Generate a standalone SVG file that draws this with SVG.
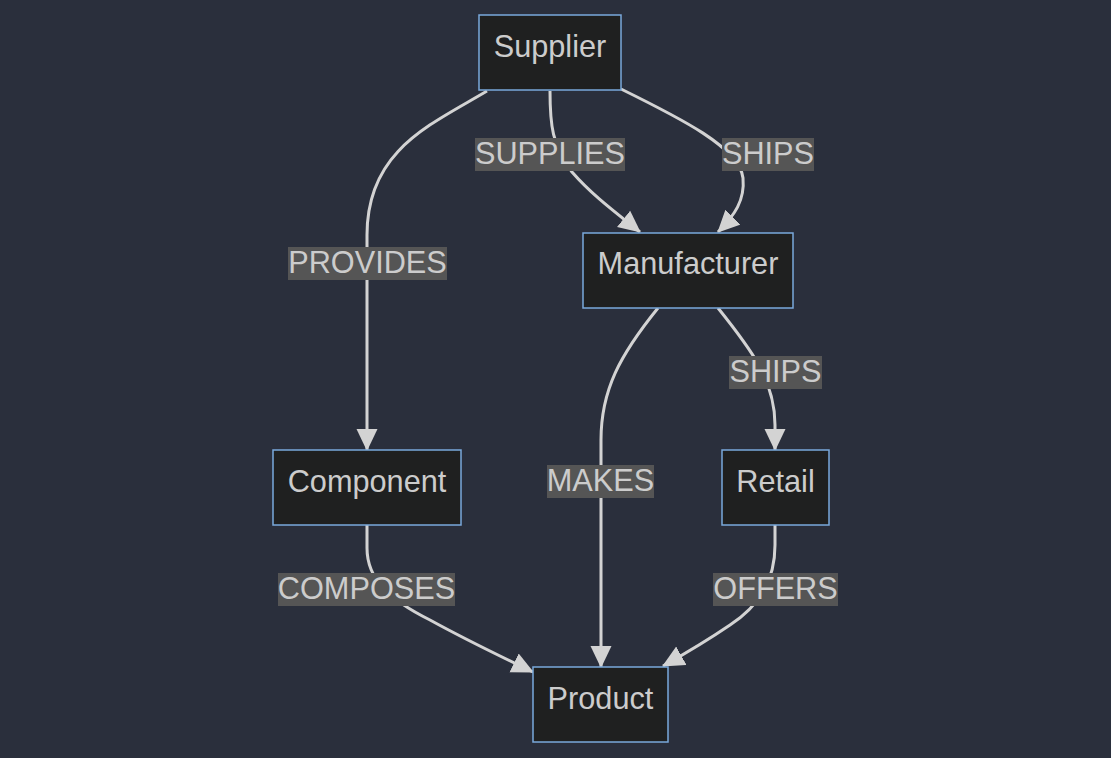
<svg xmlns="http://www.w3.org/2000/svg" width="1111" height="758" viewBox="0 0 1111 758">
<style>
.node rect{fill:#1f2020;stroke:#7aa9db;stroke-width:1.5}
.node text{font-family:"Liberation Sans",Arial,sans-serif;font-size:30.7px;fill:#cccccc;text-anchor:middle}
.edge{fill:none;stroke:#d3d3d3;stroke-width:3}
.lbl rect{fill:#555555}
.lbl text{font-family:"Liberation Sans",Arial,sans-serif;font-size:30.7px;fill:#cccccc;text-anchor:middle}
</style>
<defs>
<marker id="arr" viewBox="0 0 22 22" refX="21" refY="11" markerWidth="22" markerHeight="22" markerUnits="userSpaceOnUse" orient="auto">
<path d="M0,0.5 L22,11 L0,21.5 z" fill="#d3d3d3"/>
</marker>
</defs>
<rect width="1111" height="758" fill="#2a2f3c"/>
<g id="edges">
<path class="edge" marker-end="url(#arr)" d="M487,91 C430,125 367,150 367,235 L367,450"/>
<path class="edge" marker-end="url(#arr)" d="M550,91 C550,125 552,145 572,172 C592,195 615,212 640,232"/>
<path class="edge" marker-end="url(#arr)" d="M621,89 C680,118 740,148 743,178 C745,200 735,215 718,232"/>
<path class="edge" marker-end="url(#arr)" d="M658,308 C620,355 601,390 601,440 L601,667"/>
<path class="edge" marker-end="url(#arr)" d="M718,308 C750,348 775,380 775,425 L775,450"/>
<path class="edge" marker-end="url(#arr)" d="M367,525 L367,548 C367,580 390,600 430,620 C470,642 500,656 533,672"/>
<path class="edge" marker-end="url(#arr)" d="M775,525 L775,545 C775,580 760,605 730,625 C705,642 688,652 663,666"/>
</g>
<g id="labels">
<g class="lbl"><rect x="475" y="138" width="150" height="33"/><text x="550" y="164">SUPPLIES</text></g>
<g class="lbl"><rect x="722" y="138" width="92" height="33"/><text x="768" y="164">SHIPS</text></g>
<g class="lbl"><rect x="288" y="247" width="159" height="33"/><text x="367.5" y="273">PROVIDES</text></g>
<g class="lbl"><rect x="729" y="356" width="93" height="33"/><text x="775.5" y="382">SHIPS</text></g>
<g class="lbl"><rect x="547" y="465" width="107" height="33"/><text x="600.5" y="491">MAKES</text></g>
<g class="lbl"><rect x="278" y="573" width="177" height="33"/><text x="366.5" y="599">COMPOSES</text></g>
<g class="lbl"><rect x="713" y="573" width="125" height="33"/><text x="775.5" y="599">OFFERS</text></g>
</g>
<g id="Supplier" class="node"><rect x="479" y="15" width="142" height="75"/><text x="550" y="57">Supplier</text></g>
<g id="Manufacturer" class="node"><rect x="583" y="233" width="210" height="75"/><text x="688" y="274">Manufacturer</text></g>
<g id="Component" class="node"><rect x="273" y="450" width="188" height="75"/><text x="367" y="492">Component</text></g>
<g id="Retail" class="node"><rect x="722" y="450" width="107" height="75"/><text x="775.5" y="492">Retail</text></g>
<g id="Product" class="node"><rect x="533" y="667" width="135" height="75"/><text x="600.5" y="709">Product</text></g>
</svg>
